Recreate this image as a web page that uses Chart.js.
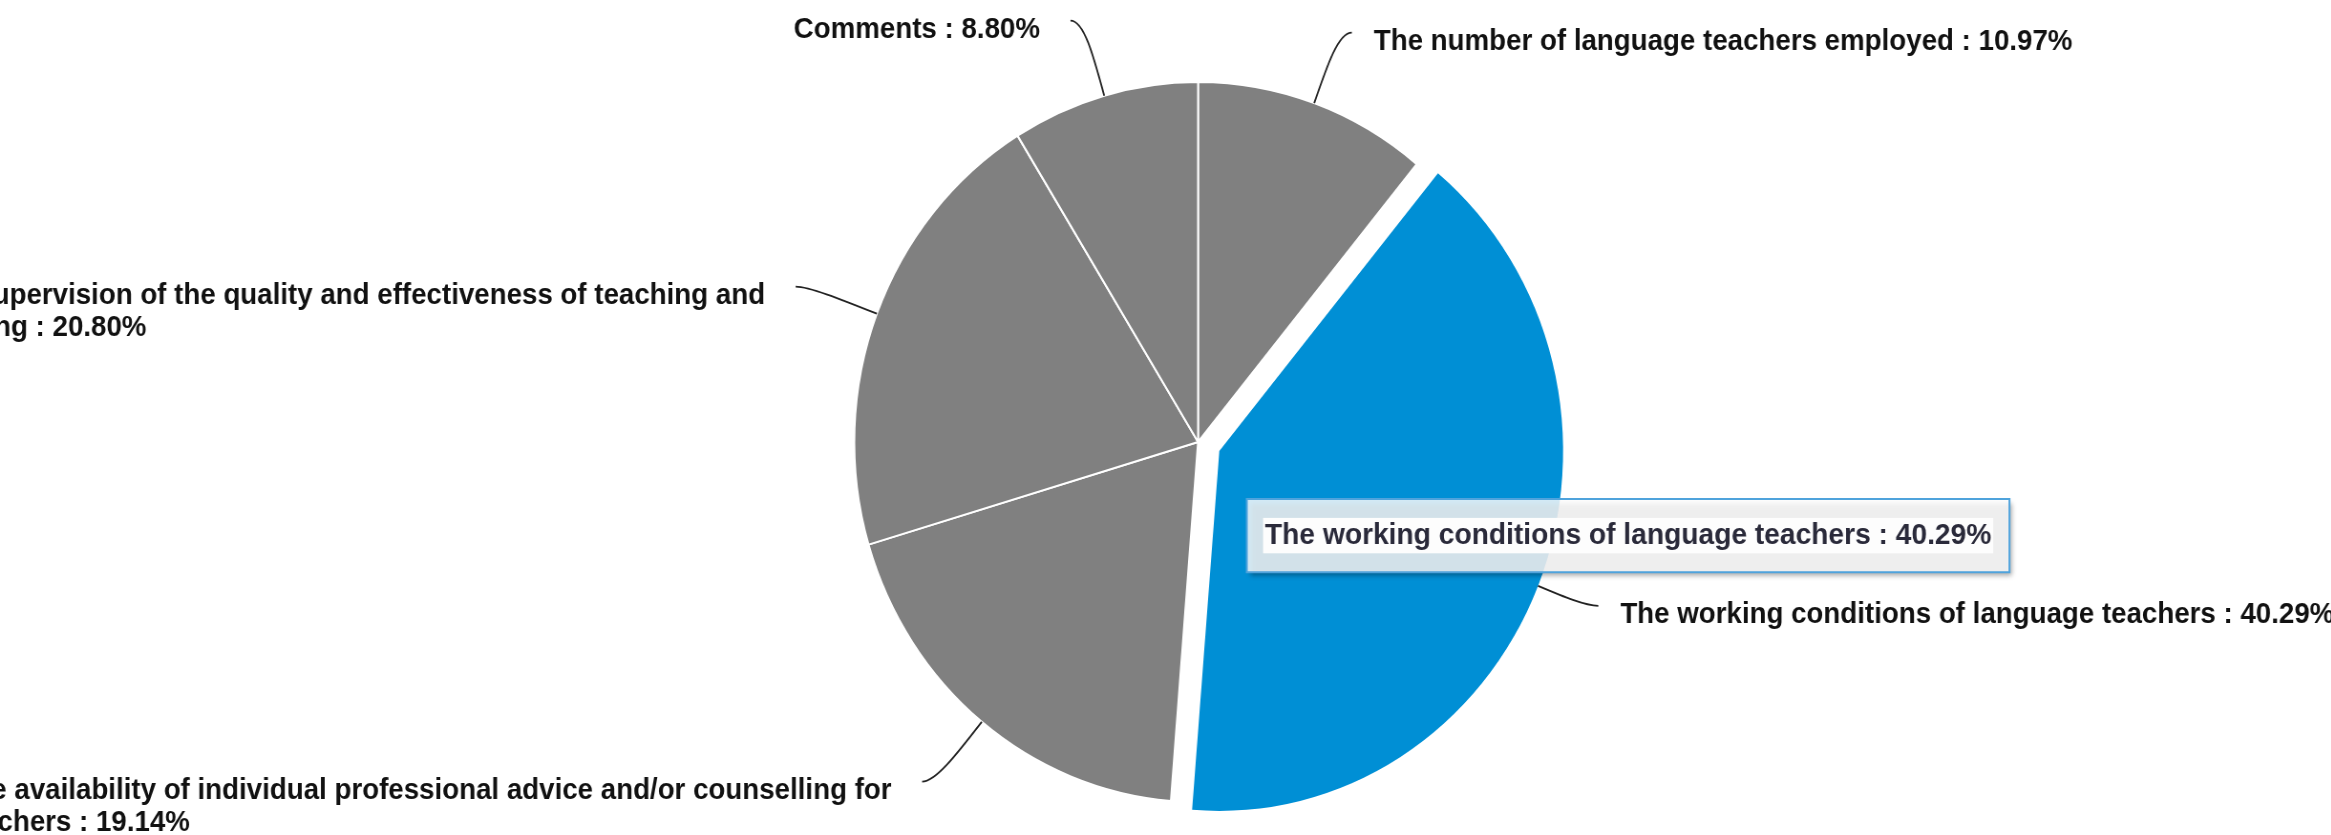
<!DOCTYPE html>
<html>
<head>
<meta charset="utf-8">
<script src="https://cdn.jsdelivr.net/npm/chart.js@4.4.1/dist/chart.umd.min.js"></script>
<style>
  html, body { margin: 0; padding: 0; background: #fff; overflow: hidden; }
  /* the reference picture is slightly squeezed horizontally */
  #wrap { width: 2441px; height: 835px; transform: scaleX(0.955); transform-origin: 0 0; }
</style>
</head>
<body>
<div id="wrap"><canvas id="pieChart" width="2441" height="835"></canvas></div>
<script>
// Data
const categories = [
  ["The number of language teachers employed"],
  ["The working conditions of language teachers"],
  ["The availability of individual professional advice and/or counselling for", "teachers"],
  ["The supervision of the quality and effectiveness of teaching and", "learning"],
  ["Comments"],
];
const values = [10.97, 40.29, 19.14, 20.8, 8.8];
const sliceColors = ["#808080", "#008fd5", "#808080", "#808080", "#808080"];

// Layout
const explode = [0, 24, 0, 0, 0];
const leaderLength = [75, 53, 77, 76, 78];
const fontFamily = '"Liberation Sans", Arial, sans-serif';
const labelFont = "bold 29px " + fontFamily;
const lineHeight = 32;
const tipFontSize = 29.5;
const tipPad = 19;

function labelLines(i) {
  const lines = categories[i].slice();
  lines[lines.length - 1] += " : " + values[i].toFixed(2) + "%";
  return lines;
}

// pull the highlighted slice out from the centre
const explodePlugin = {
  id: "explode",
  afterDatasetsUpdate(chart) {
    const meta = chart.getDatasetMeta(0);
    meta.data.forEach((arc, i) => {
      if (!explode[i]) return;
      const mid = (arc.startAngle + arc.endAngle) / 2;
      arc.x += Math.cos(mid) * explode[i];
      arc.y += Math.sin(mid) * explode[i];
    });
  },
};

// labels outside the pie with curved leader lines
const outsideLabels = {
  id: "outsideLabels",
  afterDatasetsDraw(chart) {
    const ctx = chart.ctx;
    const meta = chart.getDatasetMeta(0);
    ctx.save();
    ctx.font = labelFont;
    ctx.fillStyle = "#111";
    ctx.strokeStyle = "#222";
    ctx.lineWidth = 1.8;
    ctx.textBaseline = "alphabetic";
    meta.data.forEach((arc, i) => {
      const mid = (arc.startAngle + arc.endAngle) / 2;
      const cos = Math.cos(mid);
      const sin = Math.sin(mid);
      const right = cos >= 0;
      const len = leaderLength[i];
      const sx = arc.x + cos * arc.outerRadius;
      const sy = arc.y + sin * arc.outerRadius;
      const cx = sx + cos * len;
      const cy = sy + sin * len;
      const ex = cx + (right ? 14 : -14);
      const ey = cy;
      ctx.beginPath();
      ctx.moveTo(sx, sy);
      ctx.bezierCurveTo(sx + cos * len * 0.55, sy + sin * len * 0.55, cx, cy, ex, ey);
      ctx.stroke();

      const lines = labelLines(i);
      const w = Math.max(...lines.map((l) => ctx.measureText(l).width));
      const x = right ? ex + 23 : ex - 32 - w;
      lines.forEach((l, k) => ctx.fillText(l, x, ey + 17 + k * lineHeight));
    });
    ctx.restore();
  },
};

// shadow and white text band under the tooltip
const tooltipDecor = {
  id: "tooltipDecor",
  beforeTooltipDraw(chart, args) {
    const tip = args.tooltip;
    const ctx = chart.ctx;
    ctx.save();
    ctx.shadowColor = "rgba(0,0,0,0.35)";
    ctx.shadowBlur = 5;
    ctx.shadowOffsetX = 10003;
    ctx.shadowOffsetY = 4;
    ctx.fillStyle = "#000";
    ctx.fillRect(tip.x - 10000, tip.y, tip.width, tip.height);
    ctx.restore();

    ctx.save();
    ctx.font = "bold " + tipFontSize + "px " + fontFamily;
    const text = tip.body[0].lines[0];
    const w = ctx.measureText(text).width;
    ctx.fillStyle = "#fff";
    ctx.fillRect(tip.x + tipPad - 2, tip.y + tipPad, w + 4, tipFontSize * 1.2);
    ctx.restore();
  },
};

Chart.Tooltip.positioners.besideSlice = function (items) {
  if (!items.length) return false;
  const el = items[0].element;
  return { x: el.x + el.outerRadius * 0.08, y: el.y + el.outerRadius * 0.235 };
};

const ctx = document.getElementById("pieChart").getContext("2d");
const chart = new Chart(ctx, {
  type: "pie",
  data: {
    labels: categories,
    datasets: [
      {
        data: values,
        backgroundColor: sliceColors,
        borderColor: "#ffffff",
        borderWidth: (c) => (explode[c.dataIndex] ? 0 : 2),
        radius: 360,
      },
    ],
  },
  options: {
    responsive: false,
    animation: false,
    events: [],
    layout: { padding: { left: 68, right: 0, top: 49, bottom: 0 } },
    plugins: {
      legend: { display: false },
      title: { display: false },
      tooltip: {
        enabled: true,
        position: "besideSlice",
        xAlign: "left",
        yAlign: "center",
        caretSize: 0,
        caretPadding: 0,
        cornerRadius: 0,
        displayColors: false,
        backgroundColor: "rgba(252,252,252,0.83)",
        borderColor: "#4fa3dc",
        borderWidth: 2,
        bodyColor: "#2a2a3a",
        bodyFont: { family: fontFamily, size: tipFontSize, weight: "bold" },
        padding: tipPad,
        callbacks: {
          title: () => "",
          label: (c) => categories[c.dataIndex].join(" ") + " : " + values[c.dataIndex].toFixed(2) + "%",
        },
      },
    },
  },
  plugins: [explodePlugin, outsideLabels, tooltipDecor],
});

// show the tooltip of the highlighted slice
chart.tooltip.setActiveElements([{ datasetIndex: 0, index: 1 }], { x: 0, y: 0 });
chart.update();
</script>
</body>
</html>
